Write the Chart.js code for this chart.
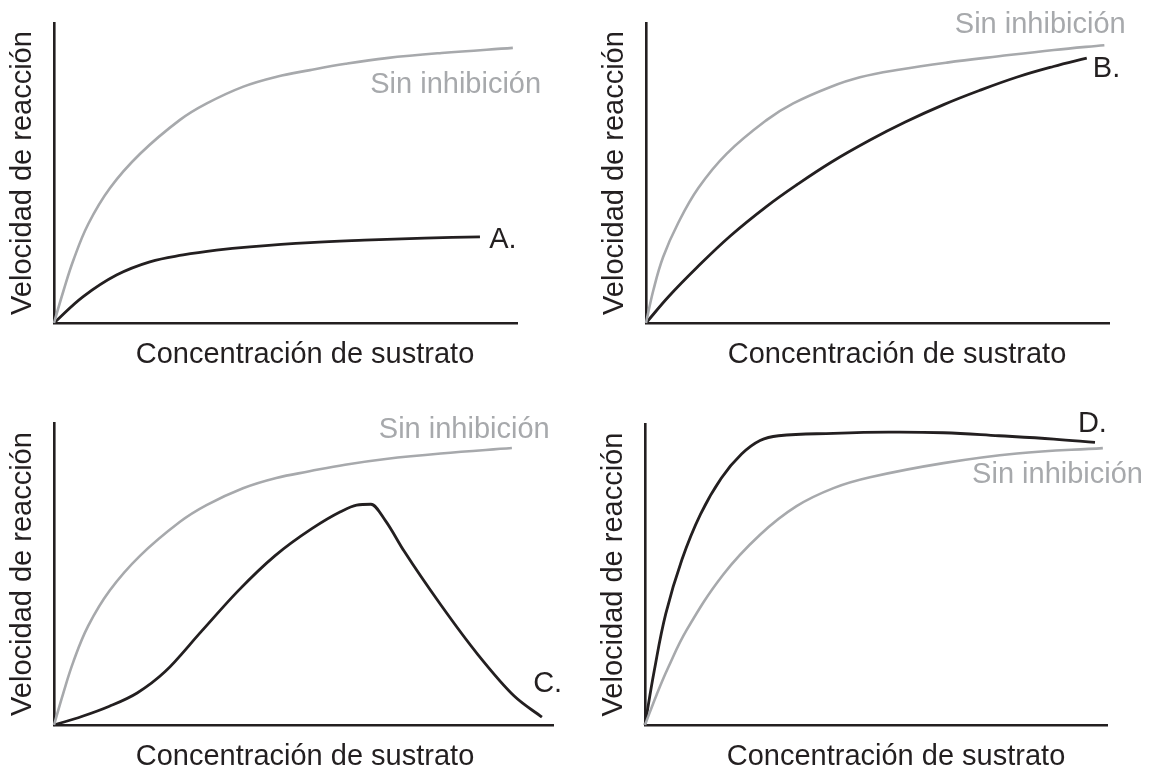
<!DOCTYPE html>
<html>
<head>
<meta charset="utf-8">
<script src="https://cdn.jsdelivr.net/npm/chart.js@4.4.1/dist/chart.umd.min.js"></script>
<style>
  html, body { margin: 0; padding: 0; background: #fff; }
  #wrap { position: relative; width: 1151px; height: 771px; }
  #wrap canvas { position: absolute; left: 0; top: 0; }
</style>
</head>
<body>
<div id="wrap">
  <canvas id="chartA" width="1151" height="771"></canvas>
  <canvas id="chartB" width="1151" height="771"></canvas>
  <canvas id="chartC" width="1151" height="771"></canvas>
  <canvas id="chartD" width="1151" height="771"></canvas>
</div>
<script>
// values, x and y as % of each axis
const aSinX = [0, 2, 4.2, 7.4, 12.1, 18.6, 27.2, 33, 40.9, 48.1, 55.3, 63, 71.8, 83.7, 99.1];
const aSinY = [0, 10.5, 21, 33, 45, 56.4, 67.7, 73.2, 78.8, 82.1, 84.3, 86.4, 88.3, 90, 91.7];
const aInhX = [0, 6.3, 13.5, 20.7, 27.9, 35.1, 42.3, 55.3, 67, 80, 92];
const aInhY = [0, 8.8, 16, 20.4, 22.7, 24.3, 25.4, 26.8, 27.6, 28.3, 28.7];

const bSinX = [0, 1.6, 3.7, 7, 11.3, 17.4, 26.1, 31.8, 39.7, 46.2, 54.9, 65, 76.2, 88.1, 99];
const bSinY = [0, 11, 22, 33.5, 45, 56.4, 67.7, 73.2, 78.6, 81.9, 84.5, 86.8, 88.9, 91, 92.6];
const bInhX = [0, 5, 11, 18.2, 26, 32.5, 40, 48.4, 56, 64.3, 72, 80.2, 88, 95.2];
const bInhY = [0, 9, 18.5, 29, 38.8, 46, 53.6, 61, 67, 72.8, 77.5, 82, 85.5, 88.3];

const cSinX = [0, 2, 4.2, 7.4, 12.1, 18.6, 27.2, 33, 40.9, 48.1, 55.3, 63, 71.8, 83.7, 99.1];
const cSinY = [0, 10.5, 21, 32.8, 44.6, 56, 67.2, 72.8, 78.4, 81.8, 84, 86.2, 88.1, 89.9, 91.7];
const cInhX = [0, 6, 12, 18, 24, 31.9, 39.9, 47.8, 55.8, 62, 65.5, 68.6, 71.8, 75.8, 83.7, 91.7, 99.6, 105.6];
const cInhY = [0, 2.8, 6.2, 10.6, 17.6, 31, 44.5, 56, 65, 70.6, 72.8, 73.1, 67.5, 57.5, 39.8, 23.4, 9.6, 2.6];

const dSinX = [0, 2.5, 5, 9, 16.9, 24.9, 32.8, 40.8, 48.7, 64.6, 80.5, 99.1];
const dSinY = [0, 10, 19, 31.5, 49.9, 63.2, 72.7, 78.7, 82.3, 87, 90.2, 92];
const dInhX = [0, 2, 4.5, 8, 12, 16.5, 20.9, 24.9, 28.9, 40.8, 52.7, 64.6, 76.6, 88.5, 97.4];
const dInhY = [0, 18, 37, 55, 70, 82, 90, 94.5, 96.1, 96.9, 97.3, 97.1, 96.1, 95, 93.9];

const xTitle = 'Concentración de sustrato';
const yTitle = 'Velocidad de reacción';
const sinLabel = 'Sin inhibición';

const GRAY = '#a7a9ac';
const INK = '#231f20';
const FONT = '29px "Liberation Sans", Arial, sans-serif';

function pts(xs, ys) {
    return xs.map((x, i) => ({x: x, y: ys[i]}));
}

// axis titles and curve labels
const panelText = {
    id: 'panelText',
    afterDraw(chart, args, opts) {
        const ctx = chart.ctx;
        const area = chart.chartArea;
        const xs = chart.scales.x, ys = chart.scales.y;
        ctx.save();
        ctx.font = FONT;
        ctx.fillStyle = INK;
        ctx.textBaseline = 'alphabetic';
        ctx.textAlign = 'center';
        ctx.fillText(xTitle, area.left + 251, area.bottom + 40);

        ctx.save();
        ctx.translate(area.left - 23, (area.top + area.bottom) / 2);
        ctx.rotate(-Math.PI / 2);
        ctx.fillText(yTitle, 0, 0);
        ctx.restore();

        ctx.textAlign = 'left';
        opts.notes.forEach(n => {
            ctx.fillStyle = n.color;
            ctx.fillText(n.text, xs.getPixelForValue(n.x), ys.getPixelForValue(n.y));
        });
        ctx.restore();
    }
};

function curve(data, color, width, mode) {
    return {data: data, showLine: true, borderColor: color, borderWidth: width,
            pointRadius: 0, tension: 0.4, cubicInterpolationMode: mode || 'default', clip: false};
}

function makePanel(id, box, xMax, sin, inh, inhMode, notes) {
    const axis = (max) => ({
        type: 'linear', min: 0, max: max,
        grid: {display: false, drawTicks: false},
        ticks: {display: false},
        border: {display: true, color: INK, width: 2.6}
    });
    return new Chart(document.getElementById(id), {
        type: 'scatter',
        data: {
            datasets: [curve(sin, GRAY, 2.6), curve(inh, INK, 2.8, inhMode)]
        },
        options: {
            responsive: false,
            animation: false,
            events: [],
            layout: {padding: {left: box[0], top: box[1], right: 1151 - box[2], bottom: 771 - box[3]}},
            plugins: {
                legend: {display: false},
                tooltip: {enabled: false},
                panelText: {notes: notes}
            },
            scales: {x: axis(xMax), y: axis(100)}
        },
        plugins: [panelText]
    });
}

makePanel('chartA', [54, 23, 517, 323], 100, pts(aSinX, aSinY), pts(aInhX, aInhY), null, [
    {text: sinLabel, x: 68.3, y: 76.7, color: GRAY},
    {text: 'A.', x: 94, y: 25, color: INK}
]);
makePanel('chartB', [646, 23, 1109, 323], 100, pts(bSinX, bSinY), pts(bInhX, bInhY), null, [
    {text: sinLabel, x: 66.7, y: 96.7, color: GRAY},
    {text: 'B.', x: 96.5, y: 82, color: INK}
]);
makePanel('chartC', [54, 423, 553, 725], 108, pts(cSinX, cSinY), pts(cInhX, cInhY), 'monotone', [
    {text: sinLabel, x: 70.3, y: 95, color: GRAY},
    {text: 'C.', x: 103.7, y: 10.9, color: INK}
]);
makePanel('chartD', [645, 424, 1107, 725], 100, pts(dSinX, dSinY), pts(dInhX, dInhY), null, [
    {text: 'D.', x: 93.7, y: 97.3, color: INK},
    {text: sinLabel, x: 70.8, y: 80.4, color: GRAY}
]);
</script>
</body>
</html>
